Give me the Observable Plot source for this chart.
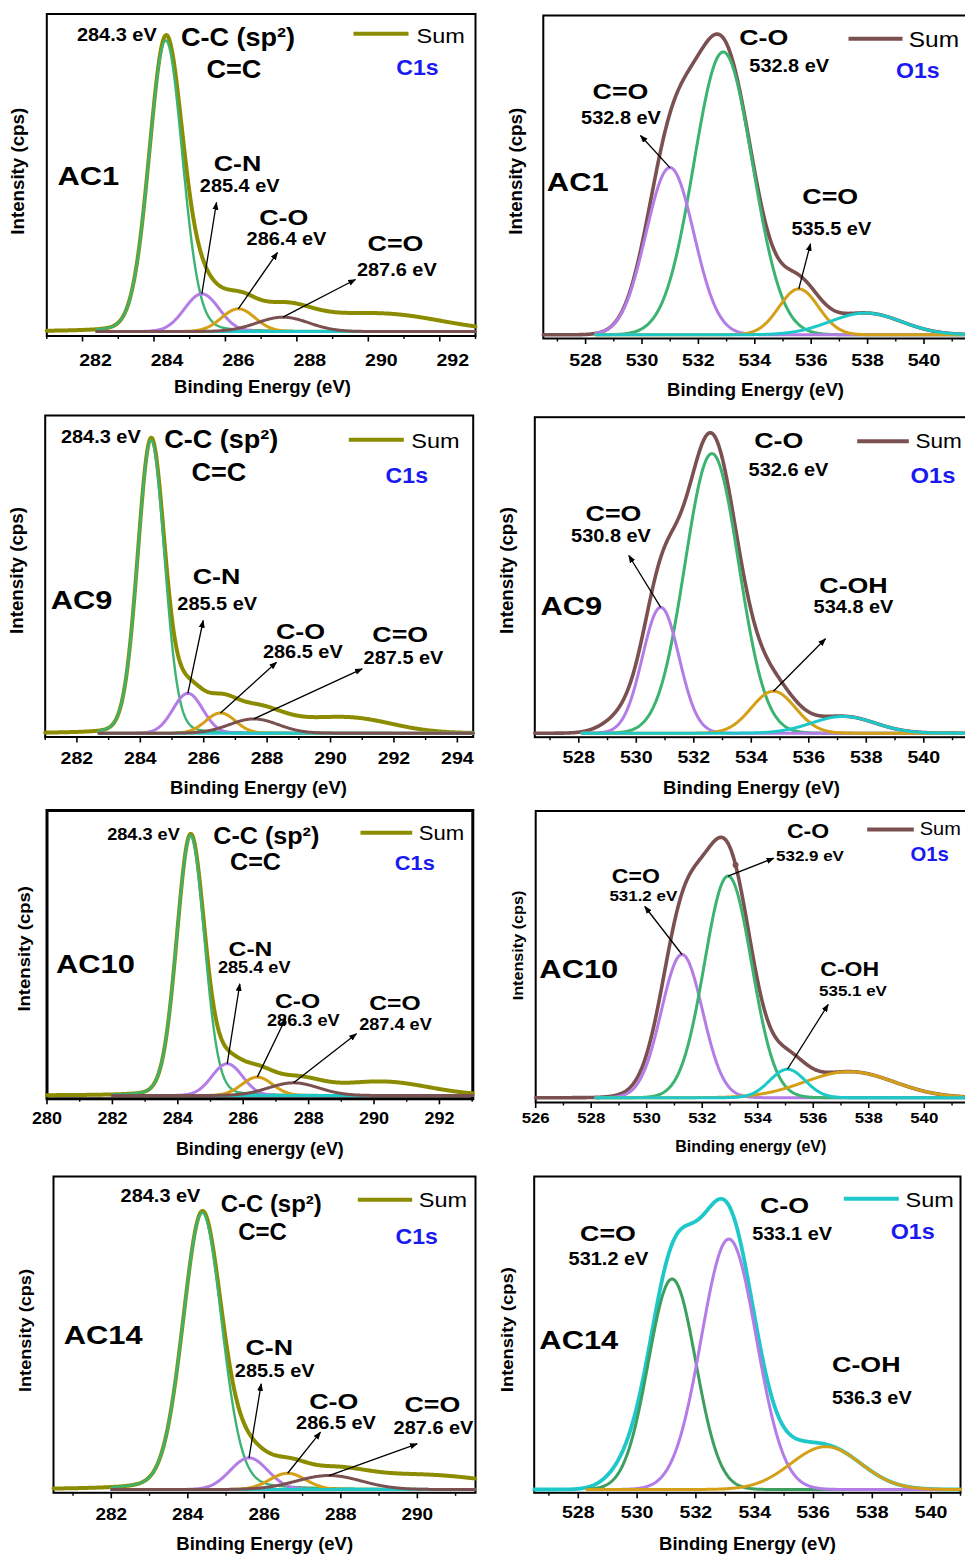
<!DOCTYPE html>
<html><head><meta charset="utf-8">
<script src="https://cdn.jsdelivr.net/npm/d3@7"></script>
<script src="https://cdn.jsdelivr.net/npm/@observablehq/plot@0.6"></script>
<style>
html,body{margin:0;padding:0;background:#fff;overflow:hidden;width:965px;height:1554px;}
#wrap{position:relative;width:965px;height:1554px;overflow:hidden;background:#fff;}
.panel{position:absolute;}
.panel svg{max-width:none !important;}
</style></head>
<body><div id="wrap"></div>
<script>
// ================= DATA =================
// Peak components: centre (eV), height (relative to the Sum maximum), FWHM (eV), Lorentz fraction.
// ---- AC1, C1s ----
const ac1C1sComponent = ["C-C (sp2)", "C-N", "C-O", "C=O", "baseline"];
const ac1C1sCenter = [284.33, 285.34, 286.36, 287.61, 288.0];
const ac1C1sHeight = [0.975, 0.126, 0.076, 0.048, 0.0];
const ac1C1sFwhm   = [1.1, 1.14, 1.1, 1.7, 3.0];
const ac1C1sEta    = [0.1, 0, 0, 0, 0];
const ac1C1sBgCenter = [287.5, 290.5];
const ac1C1sBgHeight = [0.035, 0.055];
const ac1C1sBgFwhm   = [3.5, 3.8];
const ac1C1sTicks = [282, 284, 286, 288, 290, 292];

// ---- AC1, O1s ----
const ac1O1sComponent = ["C-O", "C=O", "C=O (535.5)", "satellite"];
const ac1O1sCenter = [532.88, 530.99, 535.56, 537.93];
const ac1O1sHeight = [0.937, 0.554, 0.152, 0.072];
const ac1O1sFwhm   = [2.45, 2.0, 1.65, 3.0];
const ac1O1sEta    = [0, 0, 0, 0];
const ac1O1sBgCenter = [];
const ac1O1sBgHeight = [];
const ac1O1sBgFwhm   = [];
const ac1O1sTicks = [528, 530, 532, 534, 536, 538, 540];

// ---- AC9, C1s ----
const ac9C1sComponent = ["C-C (sp2)", "C-N", "C-O", "C=O", "baseline"];
const ac9C1sCenter = [284.34, 285.5, 286.53, 287.58, 288.0];
const ac9C1sHeight = [0.985, 0.134, 0.068, 0.048, 0.0];
const ac9C1sFwhm   = [1.0, 1.1, 1.1, 1.8, 3.0];
const ac9C1sEta    = [0.1, 0, 0, 0, 0];
const ac9C1sBgCenter = [287.6, 290.6];
const ac9C1sBgHeight = [0.04, 0.05];
const ac9C1sBgFwhm   = [3.2, 3.2];
const ac9C1sTicks = [282, 284, 286, 288, 290, 292, 294];

// ---- AC9, O1s ----
const ac9O1sComponent = ["C-O", "C=O", "C-OH", "satellite"];
const ac9O1sCenter = [532.63, 530.85, 534.77, 537.2];
const ac9O1sHeight = [0.933, 0.42, 0.14, 0.056];
const ac9O1sFwhm   = [2.2, 1.5, 1.8, 2.6];
const ac9O1sEta    = [0, 0, 0, 0];
const ac9O1sBgCenter = [529.6, 532.4];
const ac9O1sBgHeight = [0.055, 0.06];
const ac9O1sBgFwhm   = [1.6, 1.6];
const ac9O1sTicks = [528, 530, 532, 534, 536, 538, 540];

// ---- AC10, C1s ----
const ac10C1sComponent = ["C-C (sp2)", "C-N", "C-O", "C=O", "baseline"];
const ac10C1sCenter = [284.39, 285.51, 286.43, 287.54, 288.0];
const ac10C1sHeight = [0.975, 0.119, 0.069, 0.0475, 0.0];
const ac10C1sFwhm   = [1.0, 1.1, 1.1, 1.8, 3.0];
const ac10C1sEta    = [0.1, 0, 0, 0, 0];
const ac10C1sBgCenter = [287.5, 290.2];
const ac10C1sBgHeight = [0.012, 0.052];
const ac10C1sBgFwhm   = [2.0, 3.4];
const ac10C1sTicks = [280, 282, 284, 286, 288, 290, 292];

// ---- AC10, O1s ----
const ac10O1sComponent = ["C=O", "C-O", "C-OH", "satellite"];
const ac10O1sCenter = [531.27, 532.93, 535.07, 537.3];
const ac10O1sHeight = [0.544, 0.842, 0.108, 0.099];
const ac10O1sFwhm   = [1.75, 2.0, 1.5, 3.8];
const ac10O1sEta    = [0, 0, 0, 0];
const ac10O1sBgCenter = [531.8];
const ac10O1sBgHeight = [0.12];
const ac10O1sBgFwhm   = [2.8];
const ac10O1sTicks = [526, 528, 530, 532, 534, 536, 538, 540];
const ac10O1sMarker = [533.2];

// ---- AC14, C1s ----
const ac14C1sComponent = ["C-C (sp2)", "C-N", "C-O", "C=O", "baseline"];
const ac14C1sCenter = [284.38, 285.6, 286.61, 287.69, 288.0];
const ac14C1sHeight = [0.99, 0.113, 0.058, 0.05, 0.0];
const ac14C1sFwhm   = [1.2, 1.15, 1.1, 2.0, 3.0];
const ac14C1sEta    = [0.15, 0, 0, 0, 0];
const ac14C1sBgCenter = [290.0];
const ac14C1sBgHeight = [0.052];
const ac14C1sBgFwhm   = [4.5];
const ac14C1sTicks = [282, 284, 286, 288, 290];

// ---- AC14, O1s ----
const ac14O1sComponent = ["C=O", "C-O", "C-OH"];
const ac14O1sCenter = [531.19, 533.12, 536.42];
const ac14O1sHeight = [0.727, 0.865, 0.148];
const ac14O1sFwhm   = [1.9, 2.2, 2.8];
const ac14O1sEta    = [0, 0, 0];
const ac14O1sBgCenter = [529.6, 532.6, 535.3];
const ac14O1sBgHeight = [0.05, 0.09, 0.03];
const ac14O1sBgFwhm   = [1.5, 1.8, 1.5];
const ac14O1sTicks = [528, 530, 532, 534, 536, 538, 540];

// ================= STYLE / LAYOUT =================
const FONT = "'Liberation Sans', Arial, Helvetica, sans-serif";
const C_GREEN = "#3cb371", C_PURPLE = "#b47ce6", C_ORANGE = "#d4a017", C_BROWN = "#7b5050",
      C_CYAN = "#1fc8c8", C_OLIVE = "#8c8c00", C_DKGREEN = "#3d9f5f", C_BLUE = "#1a1af0";
const STYLE = {
  tick: {size: 17,   weight: "bold",   stretch: 1.15},
  val:  {size: 17.5, weight: "bold",   stretch: 1.14},
  grp:  {size: 22.5, weight: "bold",   stretch: 1.19},
  cc:   {size: 26,   weight: "bold",   stretch: 1.04},
  ac:   {size: 25.5, weight: "bold",   stretch: 1.21},
  sum:  {size: 21,   weight: "normal", stretch: 1.12},
  orb:  {size: 22,   weight: "bold",   stretch: 1.05, fill: C_BLUE},
  xt:   {size: 18.5, weight: "bold",   stretch: 1.0},
  yt:   {size: 17.5, weight: "bold",   stretch: 1.07}
};
const C1S_COLORS = [C_GREEN, C_PURPLE, C_ORANGE, C_BROWN, C_CYAN];
const C1S_WIDTHS = [2.4, 3, 3, 3, 3];
const C1S_ORDER = [0, 1, 2, 4, 3];

const panels = [
  { comp: [ac1C1sCenter, ac1C1sHeight, ac1C1sFwhm, ac1C1sEta], bg: [ac1C1sBgCenter, ac1C1sBgHeight, ac1C1sBgFwhm], ticks: ac1C1sTicks,
    box: [0, 0, 485, 400], frame: [46.3, 13.5, 475, 335.5], frameWidth: 2, xDomain: [281, 293], yBase: 331, yPeak: 32.5, compStart: 282.4,
    sumColor: C_OLIVE, sumWidth: 4, colors: C1S_COLORS, widths: C1S_WIDTHS, order: C1S_ORDER,
    tickY: 359.3, tickDx: 13, arrows: [[1, 216, 202], [2, 277, 252], [3, 355, 279]],
    legend: [353, 408, 33.3], ytitle: [17.4, 170.8], xtitle: [262, 386, "Binding Energy (eV)"], fs: {},
    notes: [["val","284.3 eV",116.3,33.7], ["cc","C-C (sp²)",237.5,36], ["cc","C=C",233.3,67.8], ["sum","Sum",416,35,"start"],
            ["orb","C1s",417,66.7], ["ac","AC1",87.8,175.8], ["grp","C-N",237,162.3], ["val","285.4 eV",239.2,184.7],
            ["grp","C-O",283.3,216.7], ["val","286.4 eV",286,238.3], ["grp","C=O",395,242], ["val","287.6 eV",396.3,269.3]] },
  { comp: [ac1O1sCenter, ac1O1sHeight, ac1O1sFwhm, ac1O1sEta], bg: [ac1O1sBgCenter, ac1O1sBgHeight, ac1O1sBgFwhm], ticks: ac1O1sTicks,
    box: [485, 0, 515, 400], frame: [542.8, 15, 994, 338], frameWidth: 2, xDomain: [526.5, 542.5], yBase: 334.3, yPeak: 32.5, compStart: 528.35,
    sumColor: C_BROWN, sumWidth: 3.6, colors: [C_GREEN, C_PURPLE, C_ORANGE, C_CYAN], widths: [3, 3, 3, 3], order: [0, 1, 2, 3],
    tickY: 359.3, tickDx: 0, arrows: [[1, 640, 135], [2, 810, 243.3]],
    legend: [848, 902, 38.3], ytitle: [515.5, 170.8], xtitle: [755, 389, "Binding Energy (eV)"], fs: {sum: 1.04},
    notes: [["grp","C-O",763.3,36.7], ["val","532.8 eV",788.7,65], ["sum","Sum",908.3,38.7,"start"], ["orb","O1s",917.3,69.7],
            ["grp","C=O",620,90], ["val","532.8 eV",620.5,117.3], ["ac","AC1",577.2,181.7], ["grp","C=O",829.7,195.3],
            ["val","535.5 eV",830.8,227.7]] },
  { comp: [ac9C1sCenter, ac9C1sHeight, ac9C1sFwhm, ac9C1sEta], bg: [ac9C1sBgCenter, ac9C1sBgHeight, ac9C1sBgFwhm], ticks: ac9C1sTicks,
    box: [0, 400, 485, 400], frame: [44.7, 415, 472.7, 736.5], frameWidth: 2, xDomain: [281, 294.5], yBase: 732.7, yPeak: 435.3, compStart: 282.7,
    sumColor: C_OLIVE, sumWidth: 4, colors: C1S_COLORS, widths: C1S_WIDTHS, order: C1S_ORDER,
    tickY: 757.7, tickDx: 0, arrows: [[1, 202.7, 620], [2, 276, 661.7], [3, 361.7, 668.3]],
    legend: [348.3, 403.3, 439.3], ytitle: [17.2, 570], xtitle: [258, 787, "Binding Energy (eV)"], fs: {},
    notes: [["val","284.3 eV",100.3,436], ["cc","C-C (sp²)",220.8,438.3], ["cc","C=C",218.3,470.8], ["sum","Sum",410.7,439.5,"start"],
            ["orb","C1s",406.3,474.2], ["ac","AC9",81,599.7], ["grp","C-N",216,575.7], ["val","285.5 eV",216.7,603.3],
            ["grp","C-O",300,630], ["val","286.5 eV",302.3,650.7], ["grp","C=O",399.7,633.7], ["val","287.5 eV",403,657]] },
  { comp: [ac9O1sCenter, ac9O1sHeight, ac9O1sFwhm, ac9O1sEta], bg: [ac9O1sBgCenter, ac9O1sBgHeight, ac9O1sBgFwhm], ticks: ac9O1sTicks,
    box: [485, 400, 515, 400], frame: [534.3, 416.7, 994, 736.7], frameWidth: 2, xDomain: [526.47, 542.46], yBase: 732.7, yPeak: 433, compStart: 528.1,
    sumColor: C_BROWN, sumWidth: 3.6, colors: [C_GREEN, C_PURPLE, C_ORANGE, C_CYAN], widths: [3, 3, 3, 3], order: [0, 1, 2, 3],
    tickY: 756.7, tickDx: 0, arrows: [[1, 628.3, 555], [2, 825, 638.3]],
    legend: [856.7, 908.3, 440.7], ytitle: [506.5, 570], xtitle: [751, 787, "Binding Energy (eV)"], fs: {sum: 0.96, orb: 1.03},
    notes: [["grp","C-O",778.3,439.5], ["val","532.6 eV",788,469.3], ["sum","Sum",915,440.5,"start"], ["orb","O1s",932.5,474.2],
            ["grp","C=O",613,512], ["val","530.8 eV",610.5,535], ["ac","AC9",570.8,605], ["grp","C-OH",853,584.7],
            ["val","534.8 eV",853,606]] },
  { comp: [ac10C1sCenter, ac10C1sHeight, ac10C1sFwhm, ac10C1sEta], bg: [ac10C1sBgCenter, ac10C1sBgHeight, ac10C1sBgFwhm], ticks: ac10C1sTicks,
    box: [0, 800, 485, 370], frame: [46.5, 810, 472.3, 1098.3], frameWidth: 3, xDomain: [280, 293.02], yBase: 1095, yPeak: 828.5, compStart: 282.0,
    sumColor: C_OLIVE, sumWidth: 4, colors: C1S_COLORS, widths: C1S_WIDTHS, order: C1S_ORDER,
    tickY: 1118.3, tickDx: 0, arrows: [[1, 239.3, 983.3], [2, 285, 1018.3], [3, 356, 1033.3]],
    legend: [360, 411.7, 832.3], ytitle: [23.5, 948.3], xtitle: [259.3, 1148, "Binding energy (eV)"],
    fs: {tick: 0.92, val: 0.91, grp: 0.92, cc: 0.93, sum: 0.94, orb: 0.945, xt: 0.96, yt: 0.99},
    notes: [["val","284.3 eV",143,833.7], ["cc","C-C (sp²)",265.8,834.7], ["cc","C=C",255,861], ["sum","Sum",418.3,832.5,"start"],
            ["orb","C1s",414.3,861.8], ["ac","AC10",95,963.3], ["grp","C-N",250,948], ["val","285.4 eV",253.7,967],
            ["grp","C-O",297,1000], ["val","286.3 eV",302.8,1020], ["grp","C=O",394.5,1002], ["val","287.4 eV",395,1023.3]] },
  { comp: [ac10O1sCenter, ac10O1sHeight, ac10O1sFwhm, ac10O1sEta], bg: [ac10O1sBgCenter, ac10O1sBgHeight, ac10O1sBgFwhm], ticks: ac10O1sTicks,
    marker: ac10O1sMarker,
    box: [485, 800, 515, 370], frame: [535.2, 810.5, 994, 1102], frameWidth: 2, xDomain: [526, 542.53], yBase: 1097.2, yPeak: 834, compStart: 528.16,
    sumColor: C_BROWN, sumWidth: 3.6, colors: [C_PURPLE, C_GREEN, C_CYAN, C_ORANGE], widths: [3, 3, 3, 3], order: [0, 1, 3, 2],
    tickY: 1117.5, tickDx: 0, arrows: [[1, 773.3, 857.7], [0, 644.3, 906], [2, 827.7, 1004]],
    legend: [866.7, 913.3, 829], ytitle: [517.5, 945], xtitle: [750.3, 1146, "Binding energy (eV)"],
    fs: {tick: 0.86, val: 0.85, grp: 0.86, sum: 0.85, orb: 0.88, xt: 0.865, yt: 0.865},
    notes: [["grp","C-O",807.5,830.8], ["val","532.9 eV",809.5,855.2], ["sum","Sum",919.3,828.3,"start"], ["orb","O1s",929.2,853.3],
            ["grp","C=O",635.3,875.5], ["val","531.2 eV",642.8,894.8], ["ac","AC10",578.3,968.3], ["grp","C-OH",849.2,968.5],
            ["val","535.1 eV",852.5,990.5]] },
  { comp: [ac14C1sCenter, ac14C1sHeight, ac14C1sFwhm, ac14C1sEta], bg: [ac14C1sBgCenter, ac14C1sBgHeight, ac14C1sBgFwhm], ticks: ac14C1sTicks,
    box: [0, 1170, 485, 384], frame: [53, 1176, 475, 1492.3], frameWidth: 2, xDomain: [280.49, 291.52], yBase: 1489, yPeak: 1209.3, compStart: 282.0,
    sumColor: C_OLIVE, sumWidth: 4, colors: C1S_COLORS, widths: C1S_WIDTHS, order: C1S_ORDER,
    tickY: 1513.3, tickDx: 0, arrows: [[1, 260.7, 1383.3], [2, 320, 1431.7], [3, 416.7, 1443.3]],
    legend: [357.3, 411.7, 1199.3], ytitle: [24.9, 1330], xtitle: [264.2, 1542.5, "Binding Energy (eV)"],
    fs: {tick: 0.97, cc: 0.885, yt: 0.97},
    notes: [["val","284.3 eV",160,1195.3], ["cc","C-C (sp²)",270.7,1203.3], ["cc","C=C",262,1231.3], ["sum","Sum",418.3,1199,"start"],
            ["orb","C1s",416.2,1235.3], ["ac","AC14",102.7,1334.7], ["grp","C-N",268.8,1346], ["val","285.5 eV",274.2,1370],
            ["grp","C-O",333.3,1400.5], ["val","286.5 eV",335.5,1421.7], ["grp","C=O",431.8,1403.7], ["val","287.6 eV",433,1426.7]] },
  { comp: [ac14O1sCenter, ac14O1sHeight, ac14O1sFwhm, ac14O1sEta], bg: [ac14O1sBgCenter, ac14O1sBgHeight, ac14O1sBgFwhm], ticks: ac14O1sTicks,
    box: [485, 1170, 480, 384], frame: [533.7, 1176, 960, 1492.3], frameWidth: 2, xDomain: [526.5, 541.0], yBase: 1489, yPeak: 1199.5, compStart: 528.3,
    sumColor: C_CYAN, sumWidth: 3.8, colors: [C_DKGREEN, C_PURPLE, C_ORANGE], widths: [3, 3, 3], order: [0, 1, 2],
    tickY: 1511.7, tickDx: 0, arrows: [],
    legend: [843.3, 898.3, 1198.3], ytitle: [506.9, 1329.2], xtitle: [747, 1542.5, "Binding Energy (eV)"],
    fs: {orb: 1.01, yt: 0.985},
    notes: [["grp","C-O",784,1204.7], ["val","533.1 eV",791.7,1232.7], ["sum","Sum",905,1198.7,"start"], ["orb","O1s",912.2,1230.3],
            ["grp","C=O",607.5,1232.8], ["val","531.2 eV",608,1258.3], ["ac","AC14",578.3,1339.3], ["grp","C-OH",865.8,1363.5],
            ["val","536.3 eV",871.3,1396.7]] }
];

// ================= DRAWING =================
function profile(x, c, h, f, eta) {
  const d = x - c, r = (d * d) / (f * f);
  const g = Math.exp(-4 * Math.LN2 * r);
  const l = 1 / (1 + 4 * r);
  return h * ((1 - eta) * g + eta * l);
}

function drawPanel(p, idx) {
  const [bx, by, bw, bh] = p.box;
  const [L, T, R, B] = p.frame;
  const [d0, d1] = p.xDomain;
  const unit = p.yBase - p.yPeak;
  const yTop = (p.yBase - T) / unit, yBot = -(B - p.yBase) / unit;
  const X = px => d0 + (px - L) / (R - L) * (d1 - d0);
  const Y = py => yTop - (py - T) / (B - T) * (yTop - yBot);
  const fs = Object.assign({tick:1, val:1, grp:1, cc:1, ac:1, sum:1, orb:1, xt:1, yt:1}, p.fs);
  const [cC, cH, cF, cE] = p.comp;
  const [gC, gH, gF] = p.bg;
  const compAt = (i, x) => profile(x, cC[i], cH[i], cF[i], cE[i]);
  const sumAt = x => {
    let s = 0;
    for (let i = 0; i < cC.length; i++) s += compAt(i, x);
    for (let j = 0; j < gC.length; j++) s += profile(x, gC[j], gH[j], gF[j], 0);
    return s;
  };
  const step = 0.02;
  const grid = d3.range(d0, d1 + step / 2, step);
  const gridComp = grid.filter(x => x >= p.compStart);

  const marks = [];
  marks.push(Plot.frame({stroke: "black", strokeWidth: p.frameWidth}));
  const majors = p.ticks;
  const minors = d3.range(Math.ceil(d0), Math.floor(d1) + 1).filter(v => !majors.includes(v) && v % 2 !== 0);
  marks.push(Plot.ruleX(majors, {x: d => d, y1: () => Y(B), y2: () => Y(B + 6), stroke: "black", strokeWidth: 1.6}));
  marks.push(Plot.ruleX(minors, {x: d => d, y1: () => Y(B), y2: () => Y(B + 3.5), stroke: "black", strokeWidth: 1.4}));
  marks.push(Plot.line(grid.map(x => ({x, y: sumAt(x)})), {x: "x", y: "y", stroke: p.sumColor, strokeWidth: p.sumWidth, strokeLinejoin: "round"}));
  for (const i of p.order) {
    marks.push(Plot.line(gridComp.map(x => ({x, y: compAt(i, x)})), {x: "x", y: "y", stroke: p.colors[i], strokeWidth: p.widths[i], strokeLinejoin: "round"}));
  }
  if (p.marker) marks.push(Plot.dot(p.marker, {x: d => d, y: d => sumAt(d), r: 3, fill: p.sumColor}));
  if (p.arrows.length) {
    marks.push(Plot.link(p.arrows, {x1: a => cC[a[0]], y1: a => cH[a[0]], x2: a => X(a[1]), y2: a => Y(a[2]),
      stroke: "black", strokeWidth: 1.3, ariaLabel: () => "arrow-link"}));
  }
  const [l1, l2, ly] = p.legend;
  marks.push(Plot.link([0], {x1: () => X(l1), x2: () => X(l2), y1: () => Y(ly), y2: () => Y(ly), stroke: p.sumColor, strokeWidth: 4}));
  const txt = (kind, s, cx, cy, anchor) => {
    const st = STYLE[kind]; const size = st.size * fs[kind];
    return Plot.text([s], {x: () => X(cx), y: () => Y(cy + 0.04 * size), text: d => d, fontSize: size, fontWeight: st.weight,
      fill: st.fill || "black", textAnchor: anchor || "middle", lineAnchor: "middle", ariaLabel: () => "stretch:" + st.stretch});
  };
  for (const n of p.notes) marks.push(txt(n[0], n[1], n[2], n[3], n[4]));
  {
    const st = STYLE.tick; const size = st.size * fs.tick;
    marks.push(Plot.text(majors, {x: d => d, y: () => Y(p.tickY + 0.04 * size), text: d => String(d), dx: p.tickDx,
      fontSize: size, fontWeight: st.weight, textAnchor: "middle", lineAnchor: "middle", ariaLabel: () => "stretch:" + st.stretch}));
  }
  marks.push(txt("xt", p.xtitle[2], p.xtitle[0], p.xtitle[1]));
  {
    const st = STYLE.yt; const size = st.size * fs.yt;
    marks.push(Plot.text(["Intensity (cps)"], {x: () => X(p.ytitle[0]), y: () => Y(p.ytitle[1]), text: d => d, rotate: -90,
      fontSize: size, fontWeight: st.weight, textAnchor: "middle", lineAnchor: "middle", ariaLabel: () => "stretch:" + st.stretch}));
  }

  const svg = Plot.plot({
    width: bw, height: bh,
    marginLeft: L - bx, marginTop: T - by, marginRight: bx + bw - R, marginBottom: by + bh - B,
    x: {domain: [d0, d1], axis: null},
    y: {domain: [yBot, yTop], axis: null},
    style: {fontFamily: FONT, background: "transparent", overflow: "visible", maxWidth: "none"},
    marks
  });
  svg.style.maxWidth = "none";
  svg.setAttribute("width", bw);
  svg.setAttribute("height", bh);

  // stretch glyphs along the text direction (keep Plot's own positioning)
  d3.select(svg).selectAll("text[aria-label^='stretch:']").each(function () {
    const k = +this.getAttribute("aria-label").split(":")[1];
    const tr = this.getAttribute("transform") || "";
    this.setAttribute("transform", `${tr} scale(${k},1)`);
    this.removeAttribute("aria-label");
  });
  // filled arrow heads
  const mid = "ahead" + idx;
  const sel = d3.select(svg);
  sel.append("defs").append("marker").attr("id", mid).attr("viewBox", "0 0 10 10").attr("refX", 9).attr("refY", 5)
    .attr("markerWidth", 8).attr("markerHeight", 8).attr("markerUnits", "userSpaceOnUse").attr("orient", "auto")
    .append("path").attr("d", "M0,1.2L10,5L0,8.8Z").attr("fill", "black");
  sel.selectAll("path[aria-label='arrow-link']").attr("marker-end", `url(#${mid})`);

  const div = document.createElement("div");
  div.className = "panel";
  div.style.left = bx + "px"; div.style.top = by + "px";
  div.style.width = bw + "px"; div.style.height = bh + "px";
  div.appendChild(svg);
  document.getElementById("wrap").appendChild(div);
}

panels.forEach(drawPanel);
</script>
</body></html>
